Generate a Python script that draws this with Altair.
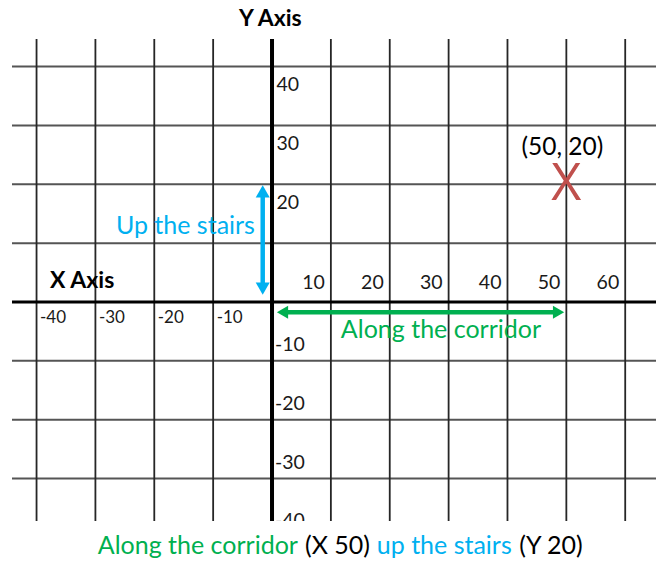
import altair as alt
import pandas as pd

# ---- data ----
grid_x = [-40, -30, -20, -10, 10, 20, 30, 40, 50, 60]
grid_y = [-30, -20, -10, 10, 20, 30, 40]
x_labels_pos = [10, 20, 30, 40, 50, 60]
x_labels_neg = [-40, -30, -20, -10]
y_labels_pos = [20, 30, 40]
y_labels_neg = [-10, -20, -30, -40]
point_x = [50]
point_y = [20]
point_label = ["(50, 20)"]
marker_text = ["X"]

# annotation anchors (data units)
title_y_text = ["Y Axis"]
title_y_pos = [(-0.3, 46.9)]
title_x_text = ["X Axis"]
title_x_pos = [(-37.7, 2.3)]
stairs_text = ["Up the stairs"]
stairs_pos = [(-2.9, 11.6)]
corridor_text = ["Along the corridor"]
corridor_pos = [(28.7, -6.1)]
caption_parts = ["Along the corridor", "(X 50)", "up the stairs", "(Y 20)"]
caption_x = [-29.6, 5.6, 17.8, 42.0]
caption_y = -42.8

FONT = "Lato"
BLUE = "#00B0F0"
GREEN = "#00B050"
RED = "#C0504D"

xs = alt.Scale(domain=[-44.17, 65.23], nice=False, zero=False)
ys = alt.Scale(domain=[-37.20, 44.675], nice=False, zero=False)


def X(field="x"):
    return alt.X(f"{field}:Q", scale=xs, axis=None)


def Y(field="y"):
    return alt.Y(f"{field}:Q", scale=ys, axis=None)


gx = pd.DataFrame({"x": grid_x})
gy = pd.DataFrame({"y": grid_y})

vgrid = alt.Chart(gx).mark_rule(color="#262626", strokeWidth=1.8).encode(x=X())
hgrid = alt.Chart(gy).mark_rule(color="#555555", strokeWidth=2).encode(y=Y())

zero = pd.DataFrame({"x": [0], "y": [0]})
xaxis = alt.Chart(zero).mark_rule(color="black", strokeWidth=3.2).encode(y=Y())
yaxis = alt.Chart(zero).mark_rule(color="black", strokeWidth=4).encode(x=X())

# tick labels
xlp = alt.Chart(pd.DataFrame({"x": x_labels_pos, "y": [0] * len(x_labels_pos),
                              "t": [str(v) for v in x_labels_pos]})).mark_text(
    font=FONT, fontSize=19.5, align="right", baseline="alphabetic", dx=-6, dy=-12.7,
    color="#1a1a1a").encode(x=X(), y=Y(), text="t:N")
xln = alt.Chart(pd.DataFrame({"x": x_labels_neg, "y": [0] * len(x_labels_neg),
                              "t": [str(v) for v in x_labels_neg]})).mark_text(
    font=FONT, fontSize=17, align="left", baseline="alphabetic", dx=3.5, dy=21,
    color="#1a1a1a").encode(x=X(), y=Y(), text="t:N")
ylp = alt.Chart(pd.DataFrame({"x": [0] * len(y_labels_pos), "y": y_labels_pos,
                              "t": [str(v) for v in y_labels_pos]})).mark_text(
    font=FONT, fontSize=19.5, align="left", baseline="alphabetic", dx=4.5, dy=24.5,
    color="#1a1a1a").encode(x=X(), y=Y(), text="t:N")
yln = alt.Chart(pd.DataFrame({"x": [0] * len(y_labels_neg), "y": y_labels_neg,
                              "t": [str(v) for v in y_labels_neg]})).mark_text(
    font=FONT, fontSize=19.5, align="left", baseline="alphabetic", dx=3, dy=-10,
    color="#1a1a1a", clip=True).encode(x=X(), y=Y(), text="t:N")

# titles
ytitle = alt.Chart(pd.DataFrame({"x": [p[0] for p in title_y_pos], "y": [p[1] for p in title_y_pos],
                                 "t": title_y_text})).mark_text(
    font=FONT, fontSize=23, fontWeight="bold", align="center", baseline="alphabetic",
    color="black").encode(x=X(), y=Y(), text="t:N")
xtitle = alt.Chart(pd.DataFrame({"x": [p[0] for p in title_x_pos], "y": [p[1] for p in title_x_pos],
                                 "t": title_x_text})).mark_text(
    font=FONT, fontSize=23, fontWeight="bold", align="left", baseline="alphabetic",
    color="black").encode(x=X(), y=Y(), text="t:N")

# point and label
pt = pd.DataFrame({"x": point_x, "y": point_y, "lab": point_label, "m": marker_text})
marker = alt.Chart(pt).mark_text(font="Open Sans", fontSize=52, align="center",
                                 baseline="alphabetic", dy=15.7, color=RED).encode(
    x=X(), y=Y(), text="m:N")
plabel = alt.Chart(pt).mark_text(font=FONT, fontSize=24.5, align="center",
                                 baseline="alphabetic", dx=-4, dy=-29.3, color="black").encode(
    x=X(), y=Y(), text="lab:N")

# blue arrow (up the stairs): from y=0 to y=point_y at x=0
blue_df = pd.DataFrame({"x": [0], "y": [0], "y2": point_y})
blue_shaft = alt.Chart(blue_df).mark_rule(color=BLUE, strokeWidth=4.5, xOffset=-9.3,
                                          yOffset=-12, y2Offset=8).encode(
    x=X(), y=Y(), y2="y2:Q")
blue_top = alt.Chart(pd.DataFrame({"x": [0], "y": point_y})).mark_point(
    shape="triangle-up", filled=True, size=196, color=BLUE, opacity=1,
    xOffset=-9.3, yOffset=7.1).encode(x=X(), y=Y())
blue_bot = alt.Chart(pd.DataFrame({"x": [0], "y": [0]})).mark_point(
    shape="triangle-down", filled=True, size=196, color=BLUE, opacity=1,
    xOffset=-9.3, yOffset=-13.4).encode(x=X(), y=Y())

# green arrow (along the corridor): from x=0 to x=point_x at y=0
green_df = pd.DataFrame({"x": [0], "x2": point_x, "y": [0]})
green_shaft = alt.Chart(green_df).mark_rule(color=GREEN, strokeWidth=4.5, xOffset=10,
                                            x2Offset=-7, yOffset=10.3).encode(
    x=X(), x2="x2:Q", y=Y())
green_left = alt.Chart(pd.DataFrame({"x": [0], "y": [0]})).mark_point(
    shape="triangle-left", filled=True, size=169, color=GREEN, opacity=1,
    xOffset=10.5, yOffset=10.3).encode(x=X(), y=Y())
green_right = alt.Chart(pd.DataFrame({"x": point_x, "y": [0]})).mark_point(
    shape="triangle-right", filled=True, size=169, color=GREEN, opacity=1,
    xOffset=-7.8, yOffset=10.3).encode(x=X(), y=Y())

stairs = alt.Chart(pd.DataFrame({"x": [p[0] for p in stairs_pos], "y": [p[1] for p in stairs_pos],
                                 "t": stairs_text})).mark_text(
    font=FONT, fontSize=25, align="right", baseline="alphabetic", color=BLUE).encode(
    x=X(), y=Y(), text="t:N")
corridor = alt.Chart(pd.DataFrame({"x": [p[0] for p in corridor_pos], "y": [p[1] for p in corridor_pos],
                                   "t": corridor_text})).mark_text(
    font=FONT, fontSize=25, align="center", baseline="alphabetic", color=GREEN).encode(
    x=X(), y=Y(), text="t:N")

cap_colors = [GREEN, "black", BLUE, "black"]
caption_layers = []
for txt, cx, col in zip(caption_parts, caption_x, cap_colors):
    caption_layers.append(
        alt.Chart(pd.DataFrame({"x": [cx], "y": [caption_y], "t": [txt]})).mark_text(
            font=FONT, fontSize=25, align="left", baseline="alphabetic", color=col).encode(
            x=X(), y=Y(), text="t:N"))

chart = alt.layer(
    hgrid, vgrid, xaxis, yaxis,
    xlp, xln, ylp, yln, ytitle, xtitle,
    blue_shaft, blue_top, blue_bot,
    green_shaft, green_left, green_right,
    stairs, corridor, marker, plabel,
    *caption_layers,
).properties(
    width=644, height=482,
    padding={"left": 4, "top": 31, "right": 1, "bottom": 41},
    autosize=alt.AutoSizeParams(type="none"),
).configure_view(stroke=None)

chart.save("out.html", embed_options={"renderer": "svg", "actions": False})
